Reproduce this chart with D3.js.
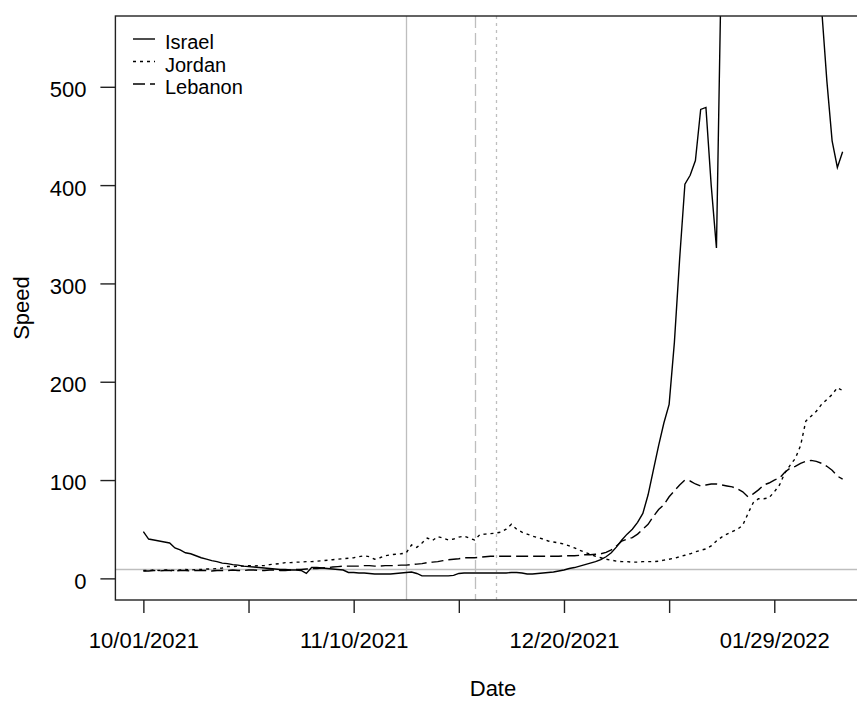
<!DOCTYPE html>
<html>
<head>
<meta charset="utf-8">
<script src="https://cdn.jsdelivr.net/npm/d3@7"></script>
<style>
  html, body { margin: 0; padding: 0; background: #ffffff; }
  svg { display: block; }
  text { font-family: "Liberation Sans", Arial, sans-serif; fill: #000; }
</style>
</head>
<body>
<svg id="chart" width="857" height="702"></svg>
<script>
// Daily series, starting 2021-10-01 (one value per day)
const startDate = "2021-10-01";

const israel = [
  47.5, 40, 39, 38, 37, 36, 31, 29, 26, 25,
  23, 21, 19.5, 18, 17, 15.5, 15, 14, 13.5, 12.5,
  12, 11.5, 11, 10.5, 10, 9.5, 9, 9, 8.5, 8.5,
  8, 5, 11, 11, 10.5, 10, 9.5, 9, 8.5, 6,
  6, 5.5, 5.5, 5, 4.5, 4.5, 4.5, 4.5, 5, 5.5,
  6, 6.5, 5, 2.5, 2.5, 2.5, 2.5, 2.5, 2.5, 3,
  5, 5.5, 5.5, 5.5, 5.5, 5.5, 5.5, 5.5, 5.5, 5.5,
  6, 6, 5.5, 4.5, 4.5, 5, 5.5, 6, 6.5, 7.5,
  8.5, 10, 11, 12.5, 14, 15.5, 17, 19, 22, 26,
  32, 39, 45, 50, 57, 66, 85, 110, 135, 158,
  177, 240, 325, 401, 410, 425, 477, 479, 400, 336,
  650, 700, 760, 820, 870, 910, 950, 980, 1000, 990,
  960, 930, 890, 850, 800, 760, 720, 680, 640, 580,
  506, 445, 418, 434
];

const jordan = [
  8, 8, 8.5, 8, 8.5, 8.5, 8, 8.5, 9, 8.5,
  9, 9, 9.5, 9.5, 10, 10.5, 12, 12, 12.5, 12.5,
  13, 12.5, 13, 13, 14, 14.5, 15, 16, 16, 16.5,
  16.5, 17, 17, 17.5, 18, 18.5, 19, 19.5, 20, 20.5,
  21, 22, 23, 22, 19.5, 21, 23, 24, 24.5, 25,
  26, 34, 31.5, 36, 41, 38.5, 42.5, 41, 39, 40,
  42, 43, 41, 39, 44.5, 45, 45.5, 46, 47, 50,
  55, 50, 47, 45, 43, 41.5, 40, 38, 37, 36,
  35, 33, 31, 28.5, 26.5, 24.5, 22.5, 21, 19.5, 18.5,
  17.5, 17, 17, 16.5, 16.5, 17, 17, 17, 17.5, 18.5,
  19.5, 20.5, 22, 23.5, 25, 27, 28.5, 30, 33, 38,
  42, 45, 47.5, 50, 54, 66, 77, 81, 81, 82,
  88, 95, 107, 115, 122, 135, 160, 165, 170, 177,
  182, 187, 194, 191
];

const lebanon = [
  7.5, 7.5, 8, 7.5, 8, 8, 7.5, 8, 8, 7.5,
  8, 8, 8, 7.5, 8, 8, 8, 8.5, 8, 8,
  8.5, 8.5, 8, 8, 8.5, 8.5, 8, 8, 8.5, 9,
  9, 9.5, 10, 10, 10.5, 11, 11.5, 12, 12.5, 12.5,
  12.5, 12.5, 13, 13, 12.5, 12.5, 13, 13, 13, 13.5,
  13.5, 14, 14.5, 15, 16, 16.5, 17, 18, 19, 19.5,
  20, 21, 21, 21, 21.5, 22, 22.5, 22.5, 22.5, 22.5,
  22.5, 22.5, 22.5, 22.5, 22.5, 22.5, 22.5, 22.5, 22.5, 22.5,
  23, 23, 23, 23.5, 24, 24, 24.5, 25, 26.5, 29,
  33, 38, 40, 41.5, 45, 50, 55, 63, 70, 75,
  83, 89, 95, 100, 99, 96, 94, 95, 96, 96,
  95, 94, 93, 91, 88, 83, 86, 90, 95, 97,
  100, 102, 108, 112, 114, 117, 119, 120, 119, 117,
  114, 110, 104, 101
];

const seriesNames = ["Israel", "Jordan", "Lebanon"];
const seriesDash = ["none", "3,4", "12,5"];

// Axis ticks
const xTickDates = ["2021-10-01", "2021-10-21", "2021-11-10", "2021-11-30", "2021-12-20", "2022-01-09", "2022-01-29"];
const xTickLabels = ["10/01/2021", "", "11/10/2021", "", "12/20/2021", "", "01/29/2022"];
const yTicks = [0, 100, 200, 300, 400, 500];
const yLimits = [0, 550];

// Reference markers
const refDates = ["2021-11-20", "2021-12-03", "2021-12-07"];
const refDash = ["none", "12,5", "3,4"];
const refLevel = 10;

const parse = d3.utcParse("%Y-%m-%d");
const t0 = parse(startDate);
const n = israel.length;
const dates = d3.range(n).map(i => d3.utcDay.offset(t0, i));

const svg = d3.select("#chart");

// Plot region (R-style 4% padding on both scales)
const box = { left: 115.4, right: 870.6, top: 16, bottom: 600 };
const padDays = (n - 1) * 0.04;
const x = d3.scaleUtc()
  .domain([new Date(+dates[0] - padDays * 864e5), new Date(+dates[n - 1] + padDays * 864e5)])
  .range([box.left, box.right]);
const yPad = (yLimits[1] - yLimits[0]) * 0.04;
const y = d3.scaleLinear()
  .domain([yLimits[0] - yPad, yLimits[1] + yPad])
  .range([box.bottom, box.top]);

svg.append("rect").attr("width", 857).attr("height", 702).attr("fill", "#fff");

svg.append("defs").append("clipPath").attr("id", "plotClip")
  .append("rect")
  .attr("x", box.left).attr("y", box.top)
  .attr("width", box.right - box.left).attr("height", box.bottom - box.top);

const plot = svg.append("g").attr("clip-path", "url(#plotClip)");

// Gray reference lines
plot.selectAll("line.ref")
  .data(refDates)
  .join("line")
  .attr("class", "ref")
  .attr("x1", d => Math.round(x(parse(d))) + 0.5)
  .attr("x2", d => Math.round(x(parse(d))) + 0.5)
  .attr("y1", box.top).attr("y2", box.bottom)
  .attr("stroke", "#bebebe").attr("stroke-width", 1.3)
  .attr("stroke-dasharray", (d, i) => refDash[i]);

plot.append("line")
  .attr("x1", box.left).attr("x2", box.right)
  .attr("y1", Math.round(y(refLevel)) + 0.5).attr("y2", Math.round(y(refLevel)) + 0.5)
  .attr("stroke", "#bebebe").attr("stroke-width", 1.3);

// Series lines
const line = d3.line()
  .x((d, i) => x(dates[i]))
  .y(d => y(d));

[israel, jordan, lebanon].forEach((vals, k) => {
  plot.append("path")
    .datum(vals)
    .attr("d", line)
    .attr("fill", "none")
    .attr("stroke", "#000")
    .attr("stroke-width", 1.4)
    .attr("stroke-dasharray", seriesDash[k]);
});

// Box
svg.append("rect")
  .attr("x", box.left).attr("y", box.top)
  .attr("width", box.right - box.left).attr("height", box.bottom - box.top)
  .attr("fill", "none").attr("stroke", "#222").attr("stroke-width", 1.4);

// X axis
const xAxis = d3.axisBottom(x)
  .tickValues(xTickDates.map(parse))
  .tickSize(13)
  .tickPadding(19)
  .tickFormat((d, i) => xTickLabels[i]);
const gx = svg.append("g").attr("transform", `translate(0,${box.bottom})`).call(xAxis);
gx.select(".domain").remove();
gx.selectAll(".tick line").attr("stroke", "#222").attr("stroke-width", 1.4);
gx.selectAll(".tick text").attr("font-size", 22).attr("fill", "#000")
  .attr("font-family", "Liberation Sans, Arial, sans-serif");

// Y axis
const yAxis = d3.axisLeft(y)
  .tickValues(yTicks)
  .tickSize(15)
  .tickPadding(14)
  .tickFormat(d3.format("d"));
const gy = svg.append("g").attr("transform", `translate(${box.left},0)`).call(yAxis);
gy.select(".domain").remove();
gy.selectAll(".tick line").attr("stroke", "#222").attr("stroke-width", 1.4);
gy.selectAll(".tick text").attr("font-size", 22).attr("fill", "#000")
  .attr("dy", "0.45em")
  .attr("font-family", "Liberation Sans, Arial, sans-serif");

// Axis titles
svg.append("text")
  .attr("x", (box.left + box.right) / 2)
  .attr("y", 696)
  .attr("text-anchor", "middle")
  .attr("font-size", 22)
  .text("Date");

svg.append("text")
  .attr("transform", `translate(29,${(box.top + box.bottom) / 2}) rotate(-90)`)
  .attr("text-anchor", "middle")
  .attr("font-size", 22)
  .text("Speed");

// Legend
const legend = svg.append("g");
const rowY = [39, 61.5, 84];
seriesNames.forEach((name, k) => {
  legend.append("line")
    .attr("x1", 133).attr("x2", 155)
    .attr("y1", rowY[k]).attr("y2", rowY[k])
    .attr("stroke", "#000").attr("stroke-width", 1.4)
    .attr("stroke-dasharray", seriesDash[k]);
  legend.append("text")
    .attr("x", 165).attr("y", rowY[k] + 10)
    .attr("font-size", 20)
    .text(name);
});
</script>
</body>
</html>
